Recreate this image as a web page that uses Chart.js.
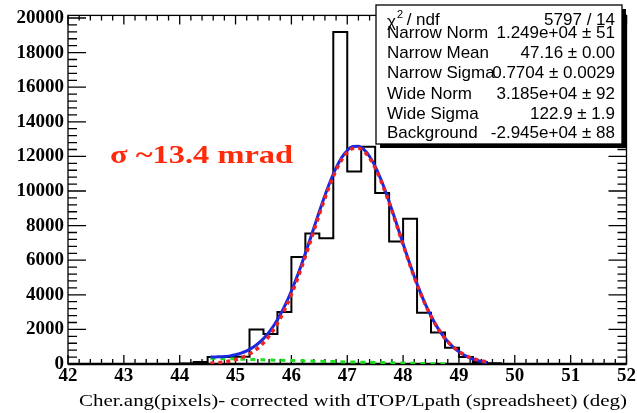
<!DOCTYPE html>
<html><head><meta charset="utf-8">
<script src="https://cdn.jsdelivr.net/npm/chart.js@4.4.1/dist/chart.umd.min.js"></script>
<style>html,body{margin:0;padding:0;background:#fff;}#wrap{width:637px;height:413px;position:relative;}</style>
</head><body><div id="wrap"><canvas id="c"></canvas></div>
<script>
// Histogram: left edges of 0.25-deg bins and counts
const binLow = [42.00,42.25,42.50,42.75,43.00,43.25,43.50,43.75,44.00,44.25,44.50,44.75,45.00,45.25,45.50,45.75,46.00,46.25,46.50,46.75,47.00,47.25,47.50,47.75,48.00,48.25,48.50,48.75,49.00,49.25,49.50,49.75,50.00,50.25,50.50,50.75,51.00,51.25,51.50,51.75];
const binCounts = [0,0,0,0,0,0,0,0,30,120,400,410,420,2000,1740,3000,6180,7550,7270,19190,11130,12560,9890,7080,8400,2960,1820,940,410,120,40,0,0,0,0,0,0,0,0,0];
const histHigh = 52.00;

// Fit curves
const fitX = [44.55,44.6,44.7,44.8,44.9,45.0,45.1,45.2,45.3,45.4,45.5,45.6,45.7,45.8,45.9,46.0,46.1,46.2,46.3,46.4,46.5,46.6,46.7,46.8,46.9,47.0,47.1,47.2,47.3,47.4,47.5,47.6,47.7,47.8,47.9,48.0,48.1,48.2,48.3,48.4,48.5,48.6,48.7,48.8,48.9,49.0,49.1,49.2,49.3,49.4,49.5];
const totalFit = [400,405,412,430,470,535,630,760,940,1170,1466,1840,2297,2845,3487,4221,5039,5931,6874,7845,8813,9742,10594,11335,11926,12344,12566,12581,12387,11994,11421,10693,9846,8914,7937,6948,5981,5062,4213,3447,2772,2190,1699,1295,968,707,504,347,229,140,75];
const narrowFit = [40,50,76,115,169,245,350,491,678,919,1226,1608,2073,2629,3279,4021,4847,5747,6698,7677,8653,9590,10450,11199,11798,12224,12452,12473,12285,11898,11331,10610,9770,8845,7875,6893,5933,5021,4179,3420,2752,2177,1693,1295,975,721,525,375,264,182,124];
const bgX = [44.55,44.8,45.0,45.5,46.0,46.5,47.0,47.5,48.0,48.5,48.8];
const bgFit = [330,310,290,240,200,160,120,90,55,20,0];

// Axis ticks and texts
const xTickMin = 42, xTickMax = 52, yMax = 20150;
const xTicks = [42,43,44,45,46,47,48,49,50,51,52];
const yTicks = [0,2000,4000,6000,8000,10000,12000,14000,16000,18000,20000];
const statLabels = ['Narrow Norm','Narrow Mean','Narrow Sigma','Wide Norm','Wide Sigma','Background'];
const statValues = ['1.249e+04 \u00b1 51','47.16 \u00b1 0.00','0.7704 \u00b1 0.0029','3.185e+04 \u00b1 92','122.9 \u00b1 1.9','-2.945e+04 \u00b1 88'];
const chiValue = '5797 / 14';
const xTitle = 'Cher.ang(pixels)- corrected with dTOP/Lpath (spreadsheet) (deg)';
const sigmaText = '\u03c3 ~13.4 mrad';

const histPoints = binLow.map((x,i)=>({x, y: binCounts[i]}));
histPoints.push({x: histHigh, y: binCounts[binCounts.length-1]});

function fitText(ctx, text, x, y, width){
  const w = ctx.measureText(text).width;
  ctx.save(); ctx.translate(x, y); ctx.scale(width / w, 1); ctx.fillText(text, 0, 0); ctx.restore();
}

const framePlugin = {
  id: 'frame',
  beforeDatasetsDraw(chart){
    const {ctx, chartArea: a, scales: {x, y}} = chart;
    ctx.save();
    ctx.strokeStyle = '#000'; ctx.lineWidth = 1.3;
    ctx.strokeRect(a.left, a.top, a.right - a.left, a.bottom - a.top);
    ctx.beginPath();
    for (let i = 0; i <= 50; i++) {
      const px = x.getPixelForValue(xTickMin + i * 0.2);
      const L = (i % 5 === 0) ? 9 : 5;
      ctx.moveTo(px, a.bottom); ctx.lineTo(px, a.bottom - L);
      ctx.moveTo(px, a.top); ctx.lineTo(px, a.top + L);
    }
    for (let i = 0; i <= 50; i++) {
      const v = i * 400; if (v > yMax) break;
      const py = y.getPixelForValue(v);
      const L = (i % 5 === 0) ? 18 : 9;
      ctx.moveTo(a.left, py); ctx.lineTo(a.left + L, py);
      ctx.moveTo(a.right, py); ctx.lineTo(a.right - L, py);
    }
    ctx.stroke();
    ctx.lineWidth = 2.5;
    ctx.beginPath(); ctx.moveTo(a.left, a.bottom); ctx.lineTo(a.right, a.bottom); ctx.stroke();
    ctx.restore();
  },
  afterDatasetsDraw(chart){
    const {ctx} = chart;
    ctx.save();
    // stats box with shadow
    const bx = 376, by = 5, bw = 246, bh = 139;
    ctx.fillStyle = '#000'; ctx.fillRect(bx + 4, by + 4, bw, bh);
    ctx.fillStyle = '#fff'; ctx.fillRect(bx, by, bw, bh);
    ctx.strokeStyle = '#000'; ctx.lineWidth = 1.3; ctx.strokeRect(bx, by, bw, bh);
    ctx.fillStyle = '#000';
    ctx.font = '17px "Liberation Sans", Arial, sans-serif';
    ctx.textBaseline = 'alphabetic';
    ctx.textAlign = 'left';
    ctx.fillText('\u03c7', 387, 27);
    const chiW = ctx.measureText('\u03c7').width;
    ctx.font = '11px "Liberation Sans", Arial, sans-serif';
    ctx.fillText('2', 387 + chiW + 1, 18);
    ctx.font = '17px "Liberation Sans", Arial, sans-serif';
    ctx.fillText(' / ndf', 387 + chiW + 6, 25);
    const rows = [38, 58, 78, 99, 119, 138];
    statLabels.forEach((t, i) => ctx.fillText(t, 387, rows[i]));
    ctx.textAlign = 'right';
    ctx.fillText(chiValue, 615, 25);
    statValues.forEach((t, i) => ctx.fillText(t, 615, rows[i]));
    // sigma annotation
    ctx.textAlign = 'left';
    ctx.fillStyle = '#ff2a0a';
    ctx.font = 'bold 25px "Liberation Serif", "Times New Roman", serif';
    fitText(ctx, sigmaText, 110, 163, 183);
    // x axis title
    ctx.fillStyle = '#000';
    ctx.font = '17.5px "Liberation Serif", "Times New Roman", serif';
    fitText(ctx, xTitle, 79, 406, 548);
    ctx.restore();
  }
};

const serifBold = {family: '"Liberation Serif", "Times New Roman", serif', size: 19, weight: 'bold'};

new Chart(document.getElementById('c'), {
  type: 'line',
  data: {
    datasets: [
      {label: 'Narrow Gaussian', data: fitX.map((x,i)=>({x, y: narrowFit[i]})), borderColor: '#ee2222', borderWidth: 3.5, borderDash: [4,4], pointRadius: 0, fill: false, cubicInterpolationMode: 'monotone'},
      {label: 'Total fit', data: fitX.map((x,i)=>({x, y: totalFit[i]})), borderColor: '#1a28e0', borderWidth: 3, pointRadius: 0, fill: false, cubicInterpolationMode: 'monotone'},
      {label: 'Background', data: bgX.map((x,i)=>({x, y: bgFit[i]})), borderColor: '#22dd22', borderWidth: 3, borderDash: [5,5], pointRadius: 0, fill: false, cubicInterpolationMode: 'monotone'},
      {label: 'Data', data: histPoints, stepped: 'before', borderColor: '#000', borderWidth: 2, pointRadius: 0, fill: false}
    ]
  },
  options: {
    responsive: true, maintainAspectRatio: false, animation: false,
    layout: {padding: {top: 10, right: 10, left: 0, bottom: 0}},
    plugins: {legend: {display: false}, tooltip: {enabled: false}},
    scales: {
      x: {type: 'linear', min: xTickMin, max: xTickMax,
          afterFit(s){ s.height = 49; },
          afterBuildTicks(s){ s.ticks = xTicks.map(v => ({value: v})); },
          grid: {display: false, drawTicks: false}, border: {display: false},
          ticks: {autoSkip: false, maxRotation: 0, padding: 1, color: '#000', font: serifBold, callback: v => String(v)}},
      y: {type: 'linear', min: 0, max: yMax,
          afterFit(s){ s.width = 68; },
          afterBuildTicks(s){ s.ticks = yTicks.map(v => ({value: v})); },
          grid: {display: false, drawTicks: false}, border: {display: false},
          ticks: {autoSkip: false, padding: 4, color: '#000', font: serifBold, callback: v => String(v)}}
    }
  },
  plugins: [framePlugin]
});
</script>
</body></html>
